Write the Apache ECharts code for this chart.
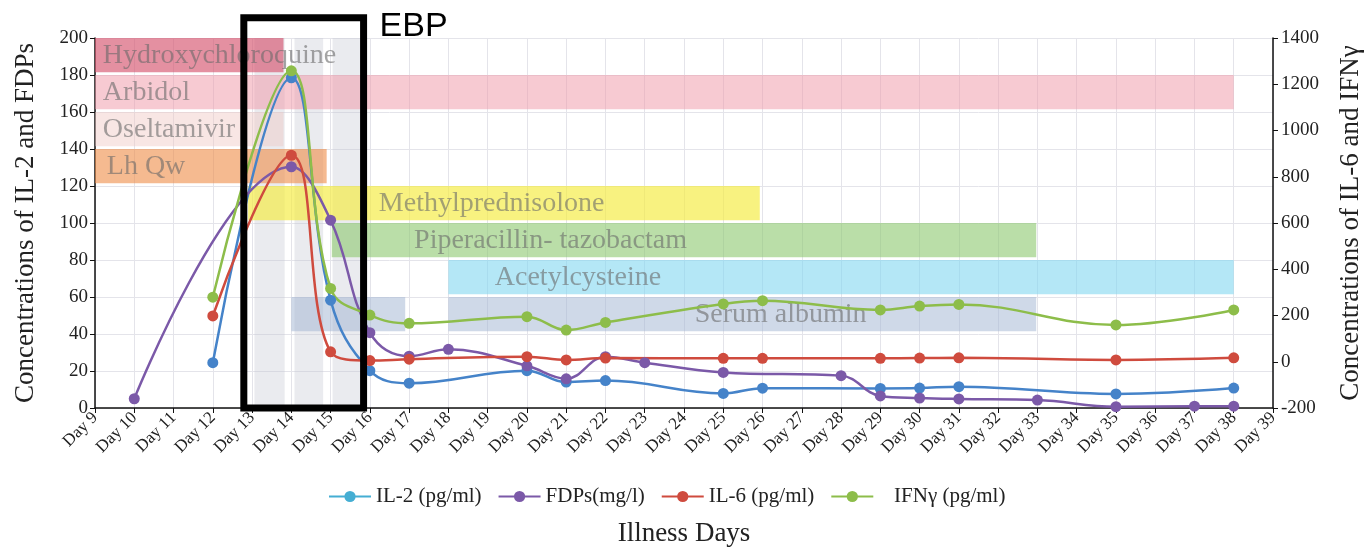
<!DOCTYPE html>
<html>
<head>
<meta charset="utf-8">
<script src="https://cdn.jsdelivr.net/npm/echarts@6/dist/echarts.min.js"></script>
<style>
html,body{margin:0;padding:0;background:#fff;}
#chart{width:1364px;height:550px;}
</style>
</head>
<body>
<div id="chart"></div>
<script>
// ---------------- DATA ----------------
const dayMin = 9, dayMax = 39;

const il2Days   = [12, 14, 15, 16, 17, 20, 21, 22, 25, 26, 29, 30, 31, 35, 38];
const il2Values = [24.5, 178.5, 58.3, 20.2, 13.4, 20.2, 14.0, 14.8, 7.9, 10.7, 10.6, 10.8, 11.5, 7.6, 10.8];

const fdpDays   = [10, 14, 15, 16, 17, 18, 20, 21, 22, 23, 25, 28, 29, 30, 31, 33, 35, 37, 38];
const fdpValues = [5, 130.4, 101.5, 40.7, 28.0, 31.7, 22.8, 15.8, 27.7, 24.5, 19.2, 17.5, 6.5, 5.4, 4.9, 4.3, 0.7, 1.0, 1.0];

const il6Days   = [12, 14, 15, 16, 17, 20, 21, 22, 25, 26, 29, 30, 31, 35, 38];
const il6Values = [198, 893, 43, 5, 11, 22, 8, 16, 15, 15, 15, 16, 17, 8, 17];

const ifnDays   = [12, 14, 15, 16, 17, 20, 21, 22, 25, 26, 29, 30, 31, 35, 38];
const ifnValues = [279, 1258, 317, 202, 166, 195, 137, 170, 250, 264, 224, 241, 248, 159, 224];

// treatments (start day, end day, row from top)
const treatmentNames = ['Hydroxychloroquine', 'Arbidol', 'Oseltamivir', 'Lh Qw', 'Methylprednisolone',
                        'Piperacillin- tazobactam', 'Acetylcysteine', 'Serum albumin', 'Serum albumin'];
const treatmentStart = [9, 9, 9, 9, 12.9, 15.03, 18, 14, 18];
const treatmentEnd   = [13.8, 38, 13.8, 14.9, 25.93, 32.97, 38, 16.9, 32.97];
const treatmentRow   = [0, 1, 2, 3, 4, 5, 6, 7, 7];

// EBP sessions (grey columns) and the EBP window
const ebpStart = [13.06, 14.08, 15.05];
const ebpEnd   = [13.83, 14.81, 15.85];
const ebpWindow = [12.79, 15.84];

// ---------------- STYLES ----------------
const SERIF = 'Liberation Serif';
const treatmentStyle = [
  {color: 'rgba(214,84,110,0.65)',  labelDay: 9.2,  align: 'left',   show: true},
  {color: 'rgba(240,150,165,0.5)',  labelDay: 9.2,  align: 'left',   show: true},
  {color: 'rgba(240,200,195,0.45)', labelDay: 9.2,  align: 'left',   show: true},
  {color: 'rgba(238,140,70,0.6)',   labelDay: 9.3,  align: 'left',   show: true},
  {color: 'rgba(245,235,60,0.65)',  labelDay: 19.1, align: 'center', show: true},
  {color: 'rgba(140,200,110,0.6)',  labelDay: 20.6, align: 'center', show: true},
  {color: 'rgba(130,215,240,0.6)',  labelDay: 21.3, align: 'center', show: true},
  {color: 'rgba(160,180,210,0.5)',  labelDay: 26.46,align: 'center', show: false},
  {color: 'rgba(160,180,210,0.5)',  labelDay: 26.46,align: 'center', show: true}
];
const rowTop = r => 200 - 20 * r;
const rowBottom = r => 200 - 20 * r - 18.5;

const treatmentData = treatmentNames.map((n, i) =>
  [treatmentStart[i], treatmentEnd[i], rowTop(treatmentRow[i]), rowBottom(treatmentRow[i]), i]);
const ebpData = ebpStart.map((s, i) => [s, ebpEnd[i], 200, 0]);

const pairs = (xs, ys) => xs.map((x, i) => [x, ys[i]]);

const chart = echarts.init(document.getElementById('chart'), null, {renderer: 'canvas'});

function rectRender(fill) {
  return function (params, api) {
    const p1 = api.coord([api.value(0), api.value(2)]);
    const p2 = api.coord([api.value(1), api.value(3)]);
    return {type: 'rect', shape: {x: p1[0], y: p1[1], width: p2[0] - p1[0], height: p2[1] - p1[1]},
            style: {fill: fill}};
  };
}

function treatmentRender(params, api) {
  const i = api.value(4);
  const st = treatmentStyle[i];
  const p1 = api.coord([api.value(0), api.value(2)]);
  const p2 = api.coord([api.value(1), api.value(3)]);
  const children = [{
    type: 'rect',
    shape: {x: p1[0], y: p1[1], width: p2[0] - p1[0], height: p2[1] - p1[1]},
    style: {fill: st.color}
  }];
  if (st.show) {
    const lx = api.coord([st.labelDay, 0])[0];
    children.push({
      type: 'text',
      z2: 10,
      style: {
        text: treatmentNames[i], x: lx, y: (p1[1] + p2[1]) / 2 + 1,
        align: st.align, verticalAlign: 'middle',
        fill: 'rgba(105,105,105,0.6)', font: '28px "' + SERIF + '"'
      }
    });
  }
  return {type: 'group', children: children};
}

function boxRender(params, api) {
  const p1 = api.coord([ebpWindow[0], 211]);
  const p2 = api.coord([ebpWindow[1], 0]);
  return {
    type: 'group',
    children: [
      {type: 'rect', shape: {x: p1[0], y: p1[1], width: p2[0] - p1[0], height: p2[1] - p1[1]},
       style: {fill: 'none', stroke: '#000', lineWidth: 7}},
      {type: 'text', style: {text: 'EBP', x: p2[0] + 16, y: p1[1] + 9, align: 'left', verticalAlign: 'middle',
        fill: '#000', font: '34px "Liberation Sans"'}}
    ]
  };
}

const lineCommon = {
  type: 'line', smooth: 0.4, symbol: 'circle', symbolSize: 11, z: 5,
  lineStyle: {width: 2.5}
};

const option = {
  animation: false,
  backgroundColor: '#fff',
  textStyle: {fontFamily: SERIF},
  grid: {left: 95, right: 91, top: 38, bottom: 142, containLabel: false, outerBoundsMode: 'none'},
  legend: {
    left: 323, top: 481, itemWidth: 42, itemHeight: 14, itemGap: 16,
    textStyle: {fontFamily: SERIF, fontSize: 21, color: '#222'},
    formatter: n => n.indexOf('IFN') === 0 ? '   ' + n : n,
    data: [
      {name: 'IL-2 (pg/ml)', itemStyle: {color: '#45aed3'}, lineStyle: {color: '#45aed3'}},
      {name: 'FDPs(mg/l)'},
      {name: 'IL-6 (pg/ml)'},
      {name: 'IFNγ (pg/ml)'}
    ]
  },
  xAxis: {
    type: 'value', min: dayMin, max: dayMax, interval: 1,
    name: 'Illness Days', nameLocation: 'middle', nameGap: 112,
    nameTextStyle: {fontFamily: SERIF, fontSize: 27, color: '#222'},
    axisLine: {show: true, onZero: false, lineStyle: {color: '#111', width: 1.5}},
    axisTick: {show: true, length: 5, lineStyle: {color: '#111'}},
    axisLabel: {formatter: v => 'Day ' + v, rotate: 45, margin: 7, fontFamily: SERIF, fontSize: 17, color: '#222'},
    splitLine: {show: true, lineStyle: {color: '#e4e4ea', width: 1}}
  },
  yAxis: [
    {
      type: 'value', min: 0, max: 200, interval: 20, position: 'left',
      name: 'Concentrations of IL-2 and FDPs', nameLocation: 'middle', nameGap: 56,
      nameTextStyle: {fontFamily: SERIF, fontSize: 27, color: '#222'},
      axisLine: {show: true, lineStyle: {color: '#111', width: 1.5}},
      axisTick: {show: true, length: 5, lineStyle: {color: '#111'}},
      axisLabel: {margin: 7, fontFamily: SERIF, fontSize: 19, color: '#222', formatter: v => String(v)},
      splitLine: {show: true, lineStyle: {color: '#e4e4ea', width: 1}}
    },
    {
      type: 'value', min: -200, max: 1400, interval: 200, position: 'right',
      name: 'Concentrations of IL-6 and IFNγ', nameLocation: 'middle', nameGap: 64,
      nameTextStyle: {fontFamily: SERIF, fontSize: 27, color: '#222'},
      axisLine: {show: true, lineStyle: {color: '#111', width: 1.5}},
      axisTick: {show: true, length: 5, lineStyle: {color: '#111'}},
      axisLabel: {margin: 8, fontFamily: SERIF, fontSize: 19, color: '#222', formatter: v => String(v)},
      splitLine: {show: false}
    }
  ],
  series: [
    {
      type: 'custom', name: 'ebp-sessions', renderItem: rectRender('rgba(195,197,208,0.35)'),
      data: ebpData, encode: {x: [0, 1], y: [2, 3]}, z: 1, silent: true
    },
    {
      type: 'custom', name: 'treatments', renderItem: treatmentRender,
      data: treatmentData, encode: {x: [0, 1], y: [2, 3]}, z: 2, silent: true
    },
    Object.assign({}, lineCommon, {name: 'IL-2 (pg/ml)', yAxisIndex: 0, data: pairs(il2Days, il2Values),
      itemStyle: {color: '#4583c9'}, lineStyle: {width: 2.5, color: '#4583c9'}}),
    Object.assign({}, lineCommon, {name: 'FDPs(mg/l)', yAxisIndex: 0, data: pairs(fdpDays, fdpValues),
      itemStyle: {color: '#7b59a8'}, lineStyle: {width: 2.5, color: '#7b59a8'}}),
    Object.assign({}, lineCommon, {name: 'IL-6 (pg/ml)', yAxisIndex: 1, data: pairs(il6Days, il6Values),
      itemStyle: {color: '#cf4b3e'}, lineStyle: {width: 2.5, color: '#cf4b3e'}}),
    Object.assign({}, lineCommon, {name: 'IFNγ (pg/ml)', yAxisIndex: 1, data: pairs(ifnDays, ifnValues),
      itemStyle: {color: '#8dbd4a'}, lineStyle: {width: 2.5, color: '#8dbd4a'}}),
    {
      type: 'custom', name: 'ebp-box', renderItem: boxRender, clip: false,
      data: [[ebpWindow[0], 0]], encode: {x: 0, y: 1}, z: 10, silent: true
    }
  ]
};
chart.setOption(option);
</script>
</body>
</html>
